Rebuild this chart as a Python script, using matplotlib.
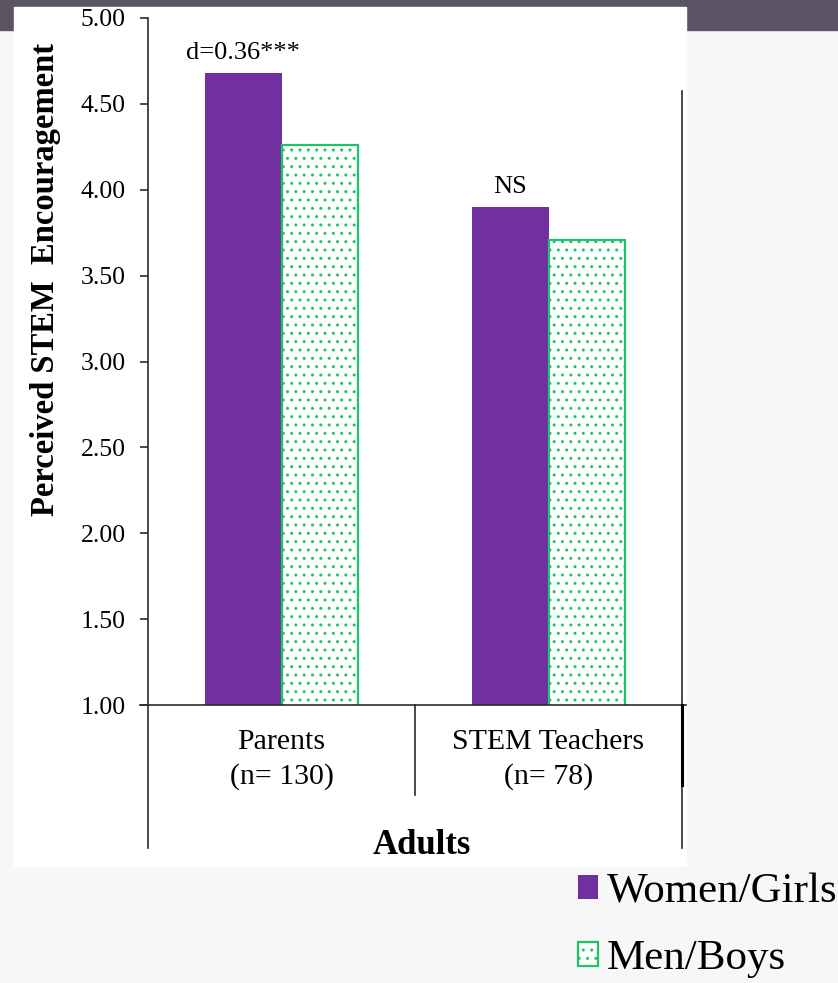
import matplotlib
matplotlib.use("Agg")
import matplotlib.pyplot as plt
from matplotlib.patches import Rectangle
import numpy as np

plt.rcParams['font.family'] = ['Liberation Serif', 'DejaVu Serif']
plt.rcParams['hatch.linewidth'] = 1.0

groups = ["Parents\n(n= 130)", "STEM Teachers\n(n= 78)"]
women = [4.68, 3.90]
men = [4.26, 3.71]
notes = ["d=0.36***", "NS"]
series_names = ["Women/Girls", "Men/Boys"]
yticks = [1.00, 1.50, 2.00, 2.50, 3.00, 3.50, 4.00, 4.50, 5.00]

purple = '#7030a0'
green = '#1fc46a'
line_col = '#2b2b2b'

W, H = 838, 983
def fx(px):
    return px / W
def fy(py):
    return 1 - py / H

fig = plt.figure(figsize=(W / 100, H / 100), dpi=100, facecolor='#f7f7f7')

# slide header band and white chart panel
fig.patches.append(Rectangle((0, fy(30)), 1, 30 / H, transform=fig.transFigure,
                             color='#5b5464', zorder=0))
fig.patches.append(Rectangle((fx(14), fy(866)), (686 - 14) / W, (866 - 7) / H,
                             transform=fig.transFigure, color='white', zorder=1))

ax = fig.add_axes([fx(148), fy(705), (682 - 148) / W, (705 - 18) / H])
ax.set_facecolor('none')
ax.set_zorder(2)

x = np.arange(len(groups)) + 0.5
w = 0.288
b1 = ax.bar(x - w / 2, women, w, color=purple, label=series_names[0], zorder=2)
b2 = ax.bar(x + w / 2, men, w, facecolor='white', edgecolor=green, hatch='..',
            linewidth=1.6, label=series_names[1], zorder=2)

for xi, val, note in zip(x - w / 2, women, notes):
    ax.annotate(note, (xi, val), xytext=(0, 9), textcoords='offset pixels',
                ha='center', va='bottom', fontsize=19)

ax.set_xlim(0, 2)
ax.set_ylim(1, 5)
ax.set_yticks(yticks)
ax.set_yticklabels([f"{v:.2f}" for v in yticks], fontsize=18.5)
ax.tick_params(axis='y', direction='out', length=6, width=1.2, color=line_col, pad=10)
ax.set_xticks(x)
ax.set_xticklabels(groups, fontsize=21.5, linespacing=1.39)
ax.tick_params(axis='x', length=0, pad=17)

for s in ['top', 'right', 'bottom']:
    ax.spines[s].set_visible(False)
ax.spines['left'].set_color(line_col)
ax.spines['left'].set_linewidth(1.2)

# frame lines around the category table
kw = dict(transform=ax.transAxes, clip_on=False, color=line_col, lw=1.2)
ax.plot([-0.015, 1.007], [0, 0], **kw)
ax.plot([0, 0], [0, -0.208], **kw)
ax.plot([0.5, 0.5], [0, -0.131], **kw)
ax.plot([1, 1], [0.894, -0.208], **kw)
ax.plot([1, 1], [0, -0.117], transform=ax.transAxes, clip_on=False, color='black', lw=2.2)

fig.text(fx(46), fy(279), "Perceived STEM  Encouragement", rotation=90,
         ha='center', va='center', fontsize=23.5, fontweight='bold', zorder=3)
fig.text(fx(422), fy(854), "Adults", ha='center', va='baseline',
         fontsize=25, fontweight='bold', zorder=3)

fig.legend(handles=[b1, b2], labels=series_names, loc='upper left',
           bbox_to_anchor=(fx(578), fy(873)), frameon=False, fontsize=31,
           handlelength=0.47, handleheight=0.47, handletextpad=0.2,
           labelspacing=0.65, borderaxespad=0, borderpad=0)

fig.savefig("out.png", dpi=100, facecolor=fig.get_facecolor())
